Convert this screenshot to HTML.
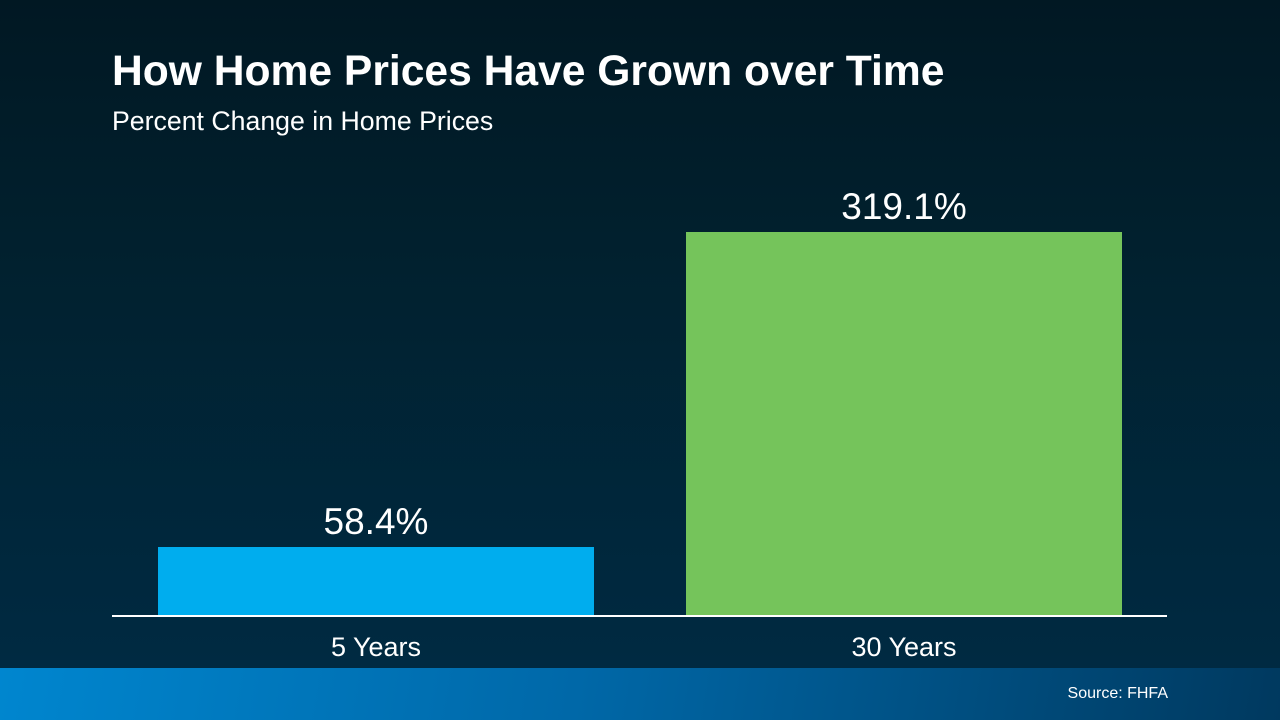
<!DOCTYPE html>
<html><head><style>
body{margin:0;width:1280px;height:720px;overflow:hidden;font-family:"Liberation Sans",sans-serif;}
.bg{position:absolute;left:0;top:0;width:1280px;height:668px;background:linear-gradient(180deg,#011823 0%,#01212f 40%,#002a42 100%);}
.foot{position:absolute;left:0;top:668px;width:1280px;height:52px;background:linear-gradient(100deg,#0086cf 0%,#0068a8 45%,#00395f 100%);}
.t{position:absolute;color:#fff;white-space:nowrap;}
</style></head><body>
<div class="bg"></div>
<div class="t" style="left:112px;top:47px;font-size:42.6px;font-weight:bold;">How Home Prices Have Grown over Time</div>
<div class="t" style="left:112px;top:106px;font-size:26.7px;">Percent Change in Home Prices</div>
<div style="position:absolute;left:158px;top:547px;width:436px;height:69px;background:#00adee;"></div>
<div style="position:absolute;left:686px;top:232px;width:436px;height:384px;background:#75c45b;"></div>
<div style="position:absolute;left:112px;top:615px;width:1055px;height:2px;background:#fff;"></div>
<div class="t" style="left:158px;width:436px;text-align:center;top:501px;font-size:37px;">58.4%</div>
<div class="t" style="left:686px;width:436px;text-align:center;top:186px;font-size:37px;">319.1%</div>
<div class="t" style="left:158px;width:436px;text-align:center;top:632px;font-size:27px;">5 Years</div>
<div class="t" style="left:686px;width:436px;text-align:center;top:632px;font-size:27px;">30 Years</div>
<div class="foot"></div>
<div class="t" style="right:112px;top:685px;font-size:16px;">Source: FHFA</div>
</body></html>
